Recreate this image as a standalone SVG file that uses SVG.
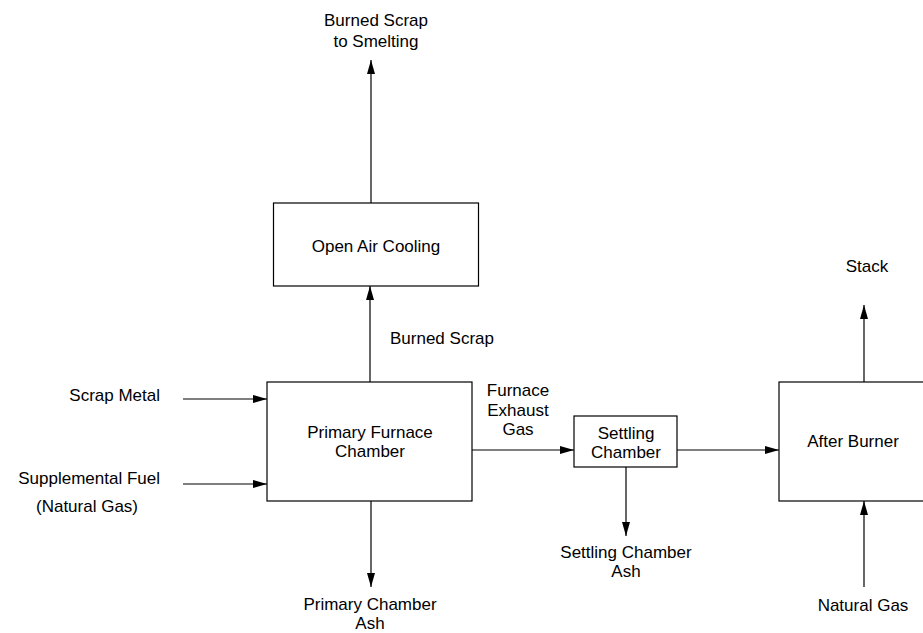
<svg xmlns="http://www.w3.org/2000/svg" width="923" height="633" viewBox="0 0 923 633">
<style>
.box{fill:#fff;stroke:#000;stroke-width:1.2}
.ln{fill:none;stroke:#000;stroke-width:1.2}
text{font-family:"Liberation Sans",Arial,sans-serif;font-size:17px;fill:#000}
.c{text-anchor:middle}
.e{text-anchor:end}
</style>
<defs>
<marker id="ah" viewBox="0 0 14 8" refX="14" refY="4" markerWidth="14" markerHeight="8" markerUnits="userSpaceOnUse" orient="auto">
<path d="M0,0 L14,4 L0,8 Z" fill="#000"/>
</marker>
</defs>
<rect width="923" height="633" fill="#fff"/>
<g id="connectors">
<line class="ln" x1="371" y1="203" x2="371" y2="60" marker-end="url(#ah)"/>
<line class="ln" x1="370" y1="382" x2="370" y2="286" marker-end="url(#ah)"/>
<line class="ln" x1="183" y1="399" x2="267" y2="399" marker-end="url(#ah)"/>
<line class="ln" x1="183" y1="484" x2="267" y2="484" marker-end="url(#ah)"/>
<line class="ln" x1="371" y1="501" x2="371" y2="587" marker-end="url(#ah)"/>
<line class="ln" x1="472" y1="450" x2="574" y2="450" marker-end="url(#ah)"/>
<line class="ln" x1="677" y1="450" x2="779" y2="450" marker-end="url(#ah)"/>
<line class="ln" x1="626" y1="467" x2="626" y2="536" marker-end="url(#ah)"/>
<line class="ln" x1="864" y1="587" x2="864" y2="501" marker-end="url(#ah)"/>
<line class="ln" x1="864" y1="382" x2="864" y2="305" marker-end="url(#ah)"/>
</g>
<g id="cooling">
<rect class="box" x="273.5" y="203" width="205" height="83"/>
<text class="c" x="376" y="252">Open Air Cooling</text>
</g>
<g id="furnace">
<rect class="box" x="267" y="382" width="205" height="119"/>
<text class="c" x="370" y="438">Primary Furnace</text>
<text class="c" x="370" y="457">Chamber</text>
</g>
<g id="settling">
<rect class="box" x="574" y="416" width="103" height="51"/>
<text class="c" x="626" y="439">Settling</text>
<text class="c" x="626" y="458">Chamber</text>
</g>
<g id="afterburner">
<rect class="box" x="779" y="382" width="160" height="119"/>
<text class="c" x="853" y="447">After Burner</text>
</g>
<g id="labels">
<text class="c" x="376" y="26">Burned Scrap</text>
<text class="c" x="376" y="47">to Smelting</text>
<text x="390" y="344">Burned Scrap</text>
<text class="e" x="160" y="401">Scrap Metal</text>
<text class="e" x="160" y="484">Supplemental Fuel</text>
<text class="c" x="87" y="512">(Natural Gas)</text>
<text class="c" x="518" y="396">Furnace</text>
<text class="c" x="518" y="416">Exhaust</text>
<text class="c" x="518" y="435">Gas</text>
<text class="c" x="370" y="610">Primary Chamber</text>
<text class="c" x="370" y="629">Ash</text>
<text class="c" x="626" y="558">Settling Chamber</text>
<text class="c" x="626" y="577">Ash</text>
<text class="c" x="863" y="611">Natural Gas</text>
<text class="c" x="867" y="272">Stack</text>
</g>
</svg>
